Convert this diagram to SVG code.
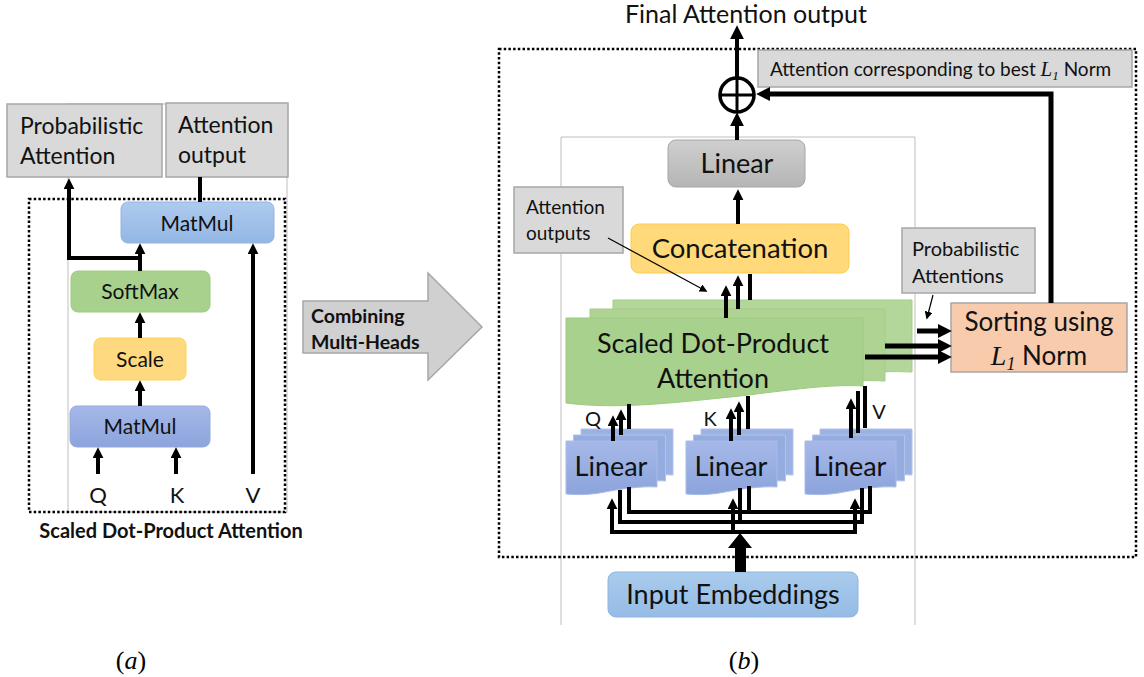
<svg xmlns="http://www.w3.org/2000/svg" width="1144" height="677" viewBox="0 0 1144 677">
<style>
.t{font-family:Lato,"Liberation Sans",sans-serif;fill:#111}
.b{font-weight:bold}
.m{font-family:"Liberation Serif",serif;font-style:italic}
.gray{fill:#D9D9D9;stroke:#A6A6A6;stroke-width:1.5}
.frame{fill:none;stroke:#BFBFBF;stroke-width:1}
.dot{fill:none;stroke:#000;stroke-width:2.5;stroke-dasharray:2.5 2.2}
.c{fill:none;stroke:#000;stroke-width:4}
.c5{fill:none;stroke:#000;stroke-width:5}
.thin{fill:none;stroke:#000;stroke-width:1.2}
</style>
<defs>
<marker id="ah" viewBox="0 0 10 10" refX="3" refY="5" markerWidth="11" markerHeight="11" markerUnits="userSpaceOnUse" orient="auto"><path d="M0,0 L10,5 L0,10 z" fill="#000"/></marker>
<marker id="ahb" viewBox="0 0 10 10" refX="3" refY="5" markerWidth="14" markerHeight="14" markerUnits="userSpaceOnUse" orient="auto"><path d="M0,0 L10,5 L0,10 z" fill="#000"/></marker>
<marker id="ahs" viewBox="0 0 10 10" refX="8" refY="5" markerWidth="8" markerHeight="8" markerUnits="userSpaceOnUse" orient="auto"><path d="M0,0 L10,5 L0,10 z" fill="#000"/></marker>
<linearGradient id="gBlue" x1="0" y1="0" x2="0" y2="1"><stop offset="0" stop-color="#AECBEF"/><stop offset="1" stop-color="#93B6E4"/></linearGradient>
<linearGradient id="gPurp" x1="0" y1="0" x2="0" y2="1"><stop offset="0" stop-color="#A6B8E8"/><stop offset="1" stop-color="#8CA4DC"/></linearGradient>
<linearGradient id="gGray" x1="0" y1="0" x2="0" y2="1"><stop offset="0" stop-color="#CFCFCF"/><stop offset="1" stop-color="#B5B5B5"/></linearGradient>
<linearGradient id="gIn" x1="0" y1="0" x2="0" y2="1"><stop offset="0" stop-color="#A9CBEC"/><stop offset="1" stop-color="#95BCE6"/></linearGradient>
<g id="linstack">
<path d="M15,-12 H107 V34 C90,33 70,36 55,39 C40,42 28,42 15,41 Z" fill="#9AB1E2" stroke="#B2C3EA" stroke-width="1"/>
<path d="M7.5,-6 H99.5 V40 C82,39 62,42 47,45 C32,48 20,48 7.5,47 Z" fill="#94ACDF" stroke="#B2C3EA" stroke-width="1"/>
<path d="M0,0 H91 V46 C74,45 54,48 39,51 C24,54 12,54 0,53 Z" fill="url(#gPurp)" stroke="#A9BBE8" stroke-width="1"/>
<text class="t" x="45" y="35" font-size="27" text-anchor="middle">Linear</text>
</g>
</defs>
<rect width="1144" height="677" fill="#fff"/>

<!-- ===== Panel (a) ===== -->
<rect class="frame" x="68" y="104" width="219" height="408"/>
<rect class="dot" x="29" y="199" width="256" height="313"/>
<g id="a-prob"><rect class="gray" x="7" y="104" width="155" height="73"/>
<text class="t" x="20" y="134" font-size="23">Probabilistic</text><text class="t" x="20" y="164" font-size="23">Attention</text></g>
<g id="a-out"><rect class="gray" x="166" y="103" width="122" height="74"/>
<text class="t" x="178" y="133" font-size="23">Attention</text><text class="t" x="178" y="163" font-size="23">output</text></g>
<g id="a-matmul2"><rect x="121" y="202" width="153" height="41" rx="7" fill="url(#gBlue)" stroke="#93B4E2"/>
<text class="t" x="197" y="231" font-size="21" text-anchor="middle">MatMul</text></g>
<g id="a-softmax"><rect x="71" y="271" width="139" height="41" rx="7" fill="#A9D18E" stroke="#9CCB7E"/>
<text class="t" x="140" y="299" font-size="21" text-anchor="middle">SoftMax</text></g>
<g id="a-scale"><rect x="94" y="338" width="92" height="42" rx="7" fill="#FFD97F" stroke="#FFD24D"/>
<text class="t" x="140" y="367" font-size="21" text-anchor="middle">Scale</text></g>
<g id="a-matmul1"><rect x="70" y="406" width="140" height="41" rx="7" fill="url(#gPurp)" stroke="#93A9DE"/>
<text class="t" x="140" y="434" font-size="21" text-anchor="middle">MatMul</text></g>
<g id="a-labels">
<text class="t" x="98" y="503" font-size="22" text-anchor="middle">Q</text>
<text class="t" x="177" y="503" font-size="22" text-anchor="middle">K</text>
<text class="t" x="253" y="503" font-size="22" text-anchor="middle">V</text>
<text class="t b" x="171" y="538" font-size="20" text-anchor="middle">Scaled Dot-Product Attention</text>
</g>
<g id="a-connectors">
<line class="c" x1="200" y1="202" x2="200" y2="177"/>
<line class="c" x1="140" y1="271" x2="140" y2="251" stroke-width="3.5" marker-end="url(#ah)"/>
<path class="c" d="M140,258 H69 V186" stroke-width="3.5" marker-end="url(#ah)"/>
<line class="c" x1="140" y1="338" x2="140" y2="320" stroke-width="3.5" marker-end="url(#ah)"/>
<line class="c" x1="140" y1="406" x2="140" y2="388" stroke-width="3.5" marker-end="url(#ah)"/>
<line class="c" x1="98" y1="474" x2="98" y2="455" stroke-width="3.5" marker-end="url(#ah)"/>
<line class="c" x1="176" y1="474" x2="176" y2="455" stroke-width="3.5" marker-end="url(#ah)"/>
<line class="c" x1="253" y1="474" x2="253" y2="251" stroke-width="3.5" marker-end="url(#ah)"/>
</g>

<!-- ===== Middle arrow ===== -->
<g id="combine">
<polygon points="303,301 428,301 428,273 482,327 428,380 428,353 303,353" fill="#D0D0D0" stroke="#A6A6A6" stroke-width="1.5"/>
<text class="t b" x="311" y="323" font-size="19.5">Combining</text>
<text class="t b" x="311" y="349" font-size="19.5">Multi-Heads</text>
</g>

<!-- ===== Panel (b) ===== -->
<path class="frame" d="M561,625 V137 H915 V625"/>
<rect class="dot" x="499" y="49" width="637" height="508"/>
<text class="t" x="746" y="23" font-size="25" text-anchor="middle">Final Attention output</text>

<g id="b-best"><rect class="gray" x="758" y="50" width="374" height="37"/>
<text class="t" x="770" y="76" font-size="19">Attention corresponding to best <tspan class="m" font-size="21">L</tspan><tspan class="m" font-style="normal" font-size="13" dy="4">1</tspan><tspan dy="-4"> Norm</tspan></text></g>

<g id="b-sum"><circle cx="737" cy="95" r="17" fill="#fff" stroke="#000" stroke-width="3.5"/>
<line x1="737" y1="78" x2="737" y2="112" stroke="#000" stroke-width="3"/>
<line x1="720" y1="95" x2="754" y2="95" stroke="#000" stroke-width="3"/></g>

<g id="b-linear"><rect x="668" y="140" width="137" height="47" rx="8" fill="url(#gGray)" stroke="#A6A6A6"/>
<text class="t" x="737" y="173" font-size="27" text-anchor="middle">Linear</text></g>

<g id="b-concat"><rect x="631" y="224" width="218" height="49" rx="8" fill="#FFD97A" stroke="#FFCB4D"/>
<text class="t" x="740" y="258" font-size="27.5" text-anchor="middle">Concatenation</text></g>

<g id="b-attout"><rect class="gray" x="514" y="187" width="109" height="66"/>
<text class="t" x="526" y="214" font-size="19">Attention</text><text class="t" x="526" y="240" font-size="19">outputs</text></g>

<g id="b-sdpa">
<path d="M613,300 H912 V372 C870,370 830,376 800,380 L613,380 Z" fill="#B3D69B" stroke="#A3CE86"/>
<path d="M590,309 H885 V381 C840,379 800,386 770,390 L590,390 Z" fill="#AED393" stroke="#A3CE86"/>
<path d="M566,318 H863 V386 C830,384 790,390 740,396 C680,402 620,410 566,403 Z" fill="#A9D18E" stroke="#9CCB7E"/>
<text class="t" x="713" y="353" font-size="27" text-anchor="middle">Scaled Dot-Product</text>
<text class="t" x="713" y="388" font-size="27" text-anchor="middle">Attention</text>
</g>

<g id="b-probatt"><rect class="gray" x="902" y="228" width="133" height="65"/>
<text class="t" x="912" y="256" font-size="20">Probabilistic</text><text class="t" x="912" y="283" font-size="20">Attentions</text></g>

<g id="b-sort"><rect x="951" y="303" width="176" height="69" fill="#F8CBAD" stroke="#A6A6A6" stroke-width="1.5"/>
<text class="t" x="1039" y="331" font-size="26" text-anchor="middle">Sorting using</text>
<text class="t" x="1039" y="365" font-size="26" text-anchor="middle"><tspan class="m" font-size="28">L</tspan><tspan class="m" font-style="normal" font-size="18" dy="5">1</tspan><tspan dy="-5"> Norm</tspan></text></g>

<g id="b-linQ"><use href="#linstack" x="566" y="441"/></g>
<g id="b-linK"><use href="#linstack" x="686" y="441"/></g>
<g id="b-linV"><use href="#linstack" x="805" y="441"/></g>

<g id="b-input"><rect x="608" y="572" width="250" height="45" rx="8" fill="url(#gIn)" stroke="#8DB4E2"/>
<text class="t" x="733" y="604" font-size="27" text-anchor="middle">Input Embeddings</text></g>

<g id="b-qkv">
<text class="t" x="593" y="426" font-size="20" text-anchor="middle">Q</text>
<text class="t" x="710" y="426" font-size="20" text-anchor="middle">K</text>
<text class="t" x="879" y="419" font-size="20" text-anchor="middle">V</text>
</g>

<g id="b-connectors">
<line class="c" x1="737" y1="78" x2="737" y2="35" marker-end="url(#ahb)"/>
<line class="c" x1="737" y1="140" x2="737" y2="122" marker-end="url(#ahb)"/>
<path class="c5" d="M1051,303 V94 H766" marker-end="url(#ahb)"/>
<line class="c" x1="738" y1="224" x2="738" y2="197" marker-end="url(#ah)"/>
<line class="thin" x1="608" y1="238" x2="706" y2="291" marker-end="url(#ahs)"/>
<line class="thin" x1="933" y1="295" x2="927" y2="318" marker-end="url(#ahs)"/>
<line class="c" x1="726" y1="318" x2="726" y2="293" marker-end="url(#ah)"/>
<line class="c" x1="738" y1="309" x2="738" y2="283" marker-end="url(#ah)"/>
<line class="c" x1="750" y1="300" x2="750" y2="274"/>
<line class="c5" x1="917" y1="331" x2="942" y2="331" marker-end="url(#ahb)"/>
<line class="c5" x1="885" y1="346" x2="942" y2="346" marker-end="url(#ahb)"/>
<line class="c5" x1="865" y1="357" x2="942" y2="357" marker-end="url(#ahb)"/>
<line class="c" x1="613" y1="441" x2="613" y2="423" marker-end="url(#ah)"/>
<line class="c" x1="621" y1="435" x2="621" y2="417" marker-end="url(#ah)"/>
<line class="c" x1="629" y1="429" x2="629" y2="404"/>
<line class="c" x1="731" y1="441" x2="731" y2="416" marker-end="url(#ah)"/>
<line class="c" x1="739" y1="435" x2="739" y2="409" marker-end="url(#ah)"/>
<line class="c" x1="748" y1="429" x2="748" y2="396"/>
<line class="c" x1="851" y1="438" x2="851" y2="406" marker-end="url(#ah)"/>
<line class="c" x1="858" y1="433" x2="858" y2="391"/>
<line class="c" x1="865" y1="428" x2="865" y2="386"/>
<path class="c" d="M612,532 H855"/>
<path class="c" d="M620,522 H862"/>
<path class="c" d="M629,512 H870"/>
<line class="c" x1="612" y1="534" x2="612" y2="506" marker-end="url(#ah)"/>
<line class="c" x1="620" y1="524" x2="620" y2="490"/>
<line class="c" x1="629" y1="514" x2="629" y2="487"/>
<line class="c" x1="733" y1="534" x2="733" y2="506" marker-end="url(#ah)"/>
<line class="c" x1="740" y1="524" x2="740" y2="488"/>
<line class="c" x1="749" y1="514" x2="749" y2="486"/>
<line class="c" x1="855" y1="534" x2="855" y2="506" marker-end="url(#ah)"/>
<line class="c" x1="862" y1="524" x2="862" y2="488"/>
<line class="c" x1="870" y1="514" x2="870" y2="486"/>
<polygon points="735,572 746,572 746,548 752,548 740,533 728,548 735,548" fill="#000"/>
</g>

<text x="131" y="669" font-size="26" text-anchor="middle" font-family="Liberation Serif,serif">(<tspan font-style="italic">a</tspan>)</text>
<text x="744" y="669" font-size="26" text-anchor="middle" font-family="Liberation Serif,serif">(<tspan font-style="italic">b</tspan>)</text>
</svg>
